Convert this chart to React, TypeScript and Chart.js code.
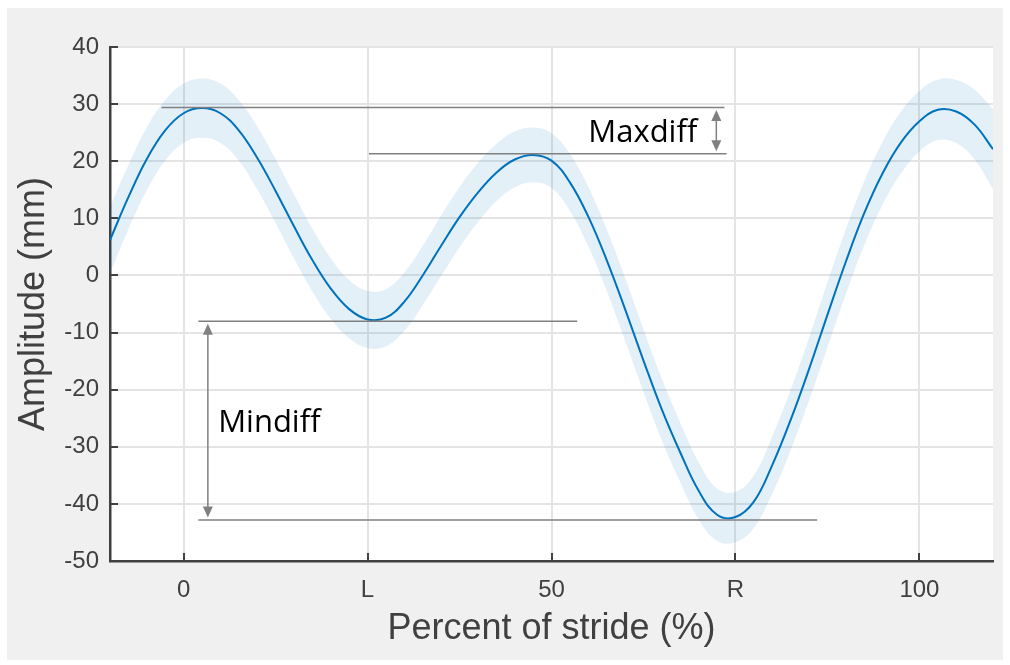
import React, { useEffect, useRef } from 'react';
import { Chart, registerables } from 'chart.js';

Chart.register(...registerables);

// Percent of stride (x) and mean amplitude (mm)
const strideX = [
  -10, -7.5, -5, -2.5, 0, 2.5, 5, 7.5, 10, 12.5, 15, 17.5, 20, 22.5, 25, 27.5, 30, 32.5,
  35, 37.5, 40, 42.5, 45, 47.5, 50, 52.5, 55, 57.5, 60, 62.5, 65, 67.5, 70, 72.5, 75,
  77.5, 80, 82.5, 85, 87.5, 90, 92.5, 95, 97.5, 100, 102.5, 105, 107.5, 110,
];
const meanAmp = [
  6.2, 13.7, 20.4, 25.4, 28.4, 29.3, 28.4, 25.4, 20.6, 14.8, 8.6, 2.7, -2.3, -5.9, -7.7, -7.4, -4.6, 0.0,
  5.2, 10.2, 14.5, 18.0, 20.3, 21.1, 20.1, 16.3, 10.3, 2.7, -5.9, -14.9, -23.5, -31.0, -37.7, -41.9, -42.3,
  -39.6, -33.2, -25.3, -16.4, -6.9, 2.4, 10.9, 17.9, 23.3, 27.0, 29.0, 28.7, 26.4, 22.1,
];
// Half-width of the shaded band (standard deviation, mm)
const sdAmp = [
  5.8, 5.6, 5.5, 5.3, 5.2, 5.2, 5.2, 5.3, 5.5, 5.6, 5.6, 5.5, 5.3, 5.1, 5.0, 5.0, 5.1, 5.2,
  5.3, 5.3, 5.2, 5.0, 4.9, 4.8, 4.8, 5.0, 5.2, 5.4, 5.5, 5.5, 5.4, 5.2, 5.0, 4.6, 4.4,
  4.6, 5.0, 5.3, 5.5, 5.7, 5.7, 5.6, 5.5, 5.4, 5.3, 5.3, 5.5, 6.1, 7.0,
];

const xTickValues = [0, 25, 50, 75, 100];
const xTickLabels = ['0', 'L', '50', 'R', '100'];
const yTickValues = [-50, -40, -30, -20, -10, 0, 10, 20, 30, 40];

// Reference lines, arrows and labels (data coordinates)
const refLineY = [29.4, 21.3, -8.0, -42.8];
const refLineX1 = [-3, 25.2, 2, 2];
const refLineX2 = [73.5, 73.8, 53.5, 86.1];
const arrowX = [72.4, 3.3];
const arrowTop = [29.4, -8.0];
const arrowBottom = [21.3, -42.8];
const noteText = ['Maxdiff', 'Mindiff'];
const noteX = [55.0, 4.7];
const noteY = [23.4, -27.4];

const AXIS_COLOR = '#404040';

const backgroundPlugin = {
  id: 'panelBackground',
  beforeDraw(chart: any) {
    const { ctx, chartArea: a } = chart;
    ctx.save();
    ctx.fillStyle = '#f0f0f0';
    ctx.fillRect(7, 8, 996, 652);
    ctx.fillStyle = '#ffffff';
    ctx.fillRect(a.left, a.top, a.right - a.left, a.bottom - a.top);
    ctx.restore();
  },
};

const annotationPlugin = {
  id: 'diffAnnotations',
  afterDatasetsDraw(chart: any) {
    const { ctx } = chart;
    const xs = chart.scales.x;
    const ys = chart.scales.y;
    ctx.save();
    ctx.strokeStyle = '#808080';
    ctx.fillStyle = '#808080';
    ctx.lineWidth = 1.5;
    refLineY.forEach((v, i) => {
      const py = ys.getPixelForValue(v);
      ctx.beginPath();
      ctx.moveTo(xs.getPixelForValue(refLineX1[i]), py);
      ctx.lineTo(xs.getPixelForValue(refLineX2[i]), py);
      ctx.stroke();
    });
    const gap = 2.5;
    const head = 11;
    const half = 5;
    arrowX.forEach((v, i) => {
      const px = xs.getPixelForValue(v);
      const t = ys.getPixelForValue(arrowTop[i]) + gap;
      const b = ys.getPixelForValue(arrowBottom[i]) - gap;
      ctx.beginPath();
      ctx.moveTo(px, t + head - 1);
      ctx.lineTo(px, b - head + 1);
      ctx.stroke();
      ctx.beginPath();
      ctx.moveTo(px, t);
      ctx.lineTo(px - half, t + head);
      ctx.lineTo(px + half, t + head);
      ctx.closePath();
      ctx.fill();
      ctx.beginPath();
      ctx.moveTo(px, b);
      ctx.lineTo(px - half, b - head);
      ctx.lineTo(px + half, b - head);
      ctx.closePath();
      ctx.fill();
    });
    ctx.fillStyle = '#000000';
    ctx.font = '31px "Open Sans"';
    ctx.textAlign = 'left';
    ctx.textBaseline = 'alphabetic';
    noteText.forEach((t, i) => {
      ctx.fillText(t, xs.getPixelForValue(noteX[i]), ys.getPixelForValue(noteY[i]));
    });
    // inward tick marks
    const a = chart.chartArea;
    ctx.strokeStyle = AXIS_COLOR;
    ctx.lineWidth = 2;
    yTickValues.forEach((v) => {
      const py = Math.round(ys.getPixelForValue(v));
      ctx.beginPath();
      ctx.moveTo(a.left, py);
      ctx.lineTo(a.left + 8, py);
      ctx.stroke();
    });
    xTickValues.forEach((v) => {
      const px = Math.round(xs.getPixelForValue(v));
      ctx.beginPath();
      ctx.moveTo(px, a.bottom);
      ctx.lineTo(px, a.bottom - 8);
      ctx.stroke();
    });
    ctx.restore();
  },
};

export default function App() {
  const canvasRef = useRef<HTMLCanvasElement | null>(null);

  useEffect(() => {
    const canvas = canvasRef.current;
    if (!canvas) return;
    const upper = strideX.map((x, i) => ({ x, y: meanAmp[i] + sdAmp[i] }));
    const lower = strideX.map((x, i) => ({ x, y: meanAmp[i] - sdAmp[i] }));
    const mean = strideX.map((x, i) => ({ x, y: meanAmp[i] }));

    const chart = new Chart(canvas, {
      type: 'line',
      data: {
        datasets: [
          {
            data: upper,
            borderWidth: 0,
            borderColor: 'rgba(0,0,0,0)',
            backgroundColor: 'rgba(0,114,189,0.11)',
            pointRadius: 0,
            fill: '+1',
            tension: 0.4,
          },
          {
            data: lower,
            borderWidth: 0,
            borderColor: 'rgba(0,0,0,0)',
            pointRadius: 0,
            fill: false,
            tension: 0.4,
          },
          {
            data: mean,
            borderWidth: 2,
            borderColor: '#0072BD',
            pointRadius: 0,
            fill: false,
            tension: 0.4,
          },
        ],
      },
      options: {
        responsive: false,
        animation: false,
        events: [],
        layout: { padding: { left: 0, top: 47, right: 17, bottom: 0 } },
        plugins: {
          legend: { display: false },
          tooltip: { enabled: false },
        },
        scales: {
          x: {
            type: 'linear',
            min: -10,
            max: 110,
            afterFit: (s: any) => {
              s.height = 104;
            },
            afterBuildTicks: (s: any) => {
              s.ticks = xTickValues.map((v) => ({ value: v }));
            },
            ticks: {
              padding: 15,
              color: AXIS_COLOR,
              font: { family: '"Liberation Sans", Arial, sans-serif', size: 24 },
              maxRotation: 0,
              autoSkip: false,
              callback: (v: any) => {
                const idx = xTickValues.indexOf(Number(v));
                return idx >= 0 ? xTickLabels[idx] : '';
              },
            },
            grid: { color: '#e4e4e4', lineWidth: 2, drawTicks: false },
            border: { display: true, color: AXIS_COLOR, width: 2.5 },
            title: {
              display: true,
              text: 'Percent of stride (%)',
              color: AXIS_COLOR,
              font: { family: '"Liberation Sans", Arial, sans-serif', size: 36, weight: 'normal' },
              padding: { top: 0, bottom: 14 },
            },
          },
          y: {
            type: 'linear',
            min: -50,
            max: 40,
            afterFit: (s: any) => {
              s.width = 110;
            },
            afterBuildTicks: (s: any) => {
              s.ticks = yTickValues.map((v) => ({ value: v }));
            },
            ticks: {
              padding: 11,
              color: AXIS_COLOR,
              font: { family: '"Liberation Sans", Arial, sans-serif', size: 24 },
              autoSkip: false,
            },
            grid: { color: '#e4e4e4', lineWidth: 2, drawTicks: false },
            border: { display: true, color: AXIS_COLOR, width: 2.5 },
            title: {
              display: true,
              text: 'Amplitude (mm)',
              color: AXIS_COLOR,
              font: { family: '"Liberation Sans", Arial, sans-serif', size: 36, weight: 'normal' },
              padding: { top: 12, bottom: 0 },
            },
          },
        },
      },
      plugins: [backgroundPlugin, annotationPlugin],
    } as any);

    return () => {
      chart.destroy();
    };
  }, []);

  return (
    <div
      style={{
        position: 'absolute',
        left: 0,
        top: 0,
        width: 1010,
        height: 665,
        background: '#ffffff',
      }}
    >
      <canvas ref={canvasRef} width={1010} height={665} style={{ display: 'block' }} />
    </div>
  );
}
